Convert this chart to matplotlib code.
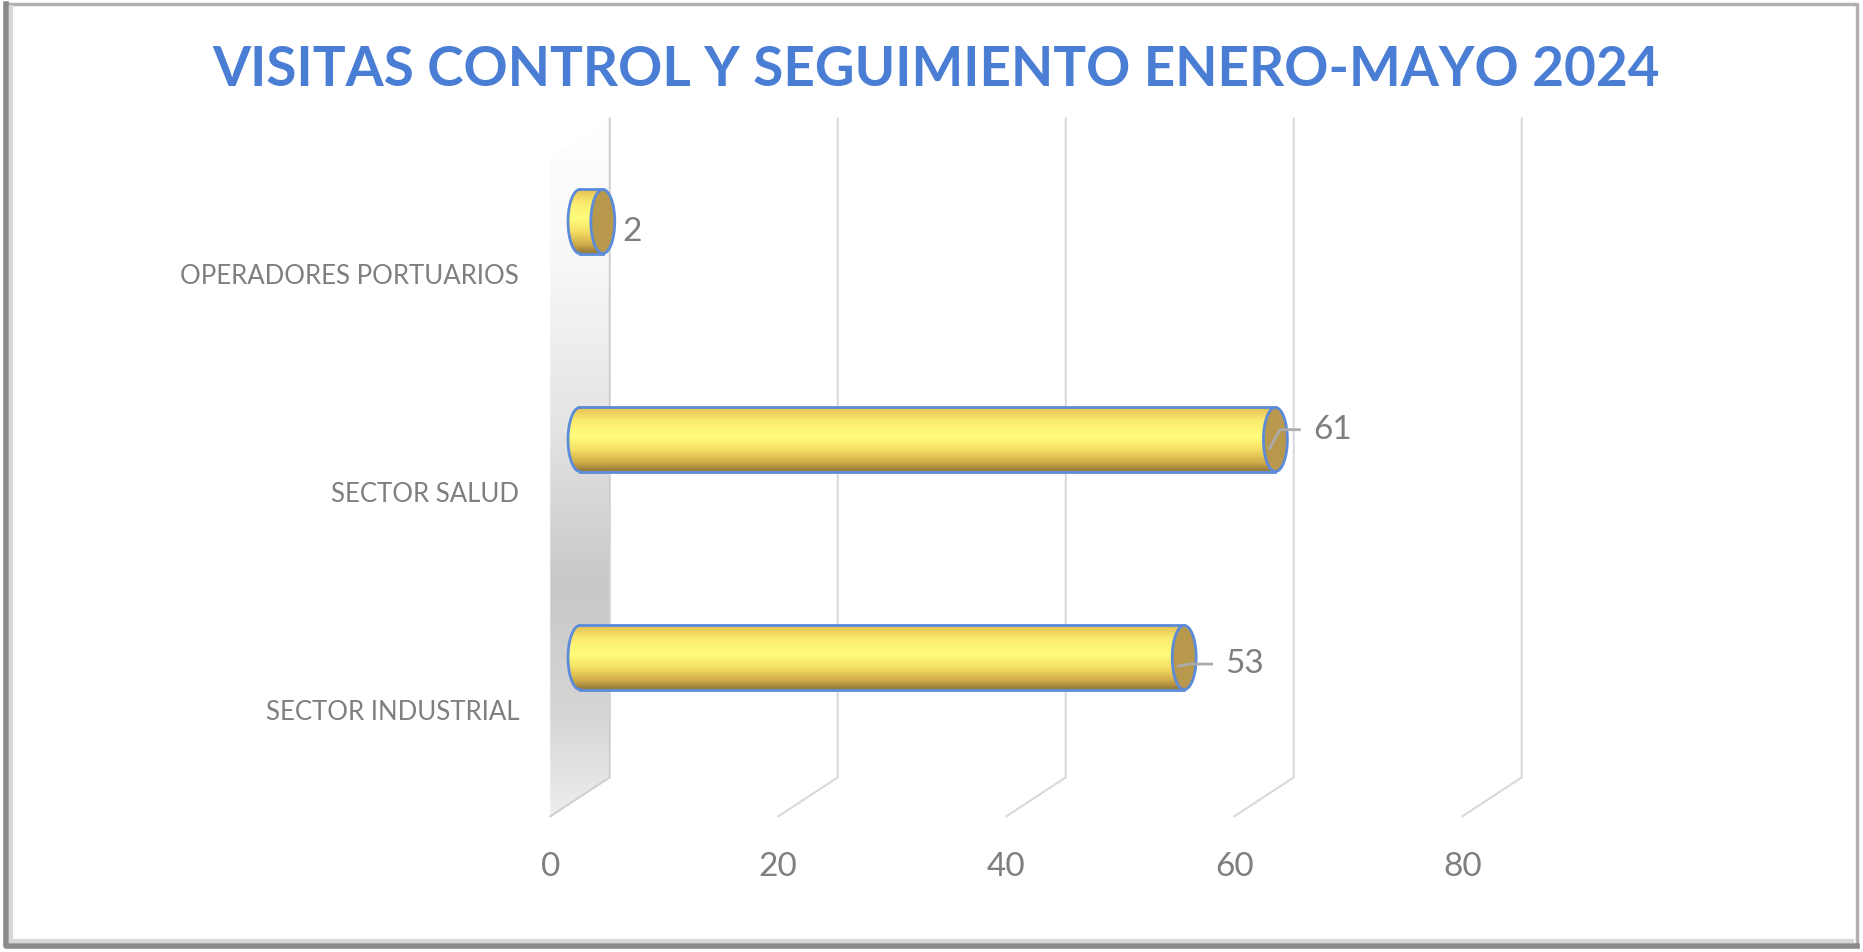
import numpy as np
import matplotlib
matplotlib.use("Agg")
import matplotlib.pyplot as plt
from matplotlib.colors import LinearSegmentedColormap
from matplotlib.patches import PathPatch, Polygon, Ellipse
from matplotlib.lines import Line2D
from matplotlib.path import Path

# data
categories = ["SECTOR INDUSTRIAL", "SECTOR SALUD", "OPERADORES PORTUARIOS"]
values = [53, 61, 2]
x_ticks = [0, 20, 40, 60, 80]
title = "VISITAS CONTROL Y SEGUIMIENTO ENERO-MAYO 2024"

# label placement (relative to bar end / centre, in data units)
label_dx = [3.6, 3.3, 1.7]
label_dy = [-0.03, 0.045, -0.05]

# 3d look
DX = 2.61      # half depth in x
DY = 0.0894    # half depth in y
TOP = 2.472    # back wall top
FLOOR_BACK = -0.55
H = 0.147      # half bar height
A = 1.05       # cap semi-width

GRID = "#D9D9D9"
TXT = "#7F7F7F"
EDGE = "#5B8BD9"
CAP = "#B8984C"

fig = plt.figure(figsize=(18.63, 9.52), dpi=100)
ax = fig.add_axes([0, 0, 1, 1])
ax.set_xlim(-580 / 11.4, (1863 - 580) / 11.4)
ax.set_ylim((657.5 - 952) / 218, 657.5 / 218)
ax.axis("off")

# frame: light top/right, darker shadow on left/bottom
tf = fig.transFigure
fig.lines.append(Line2D([0.003, 0.997, 0.997], [0.996, 0.996, 0.006], transform=tf,
                        color="#B0B0B0", lw=2.5))
fig.lines.append(Line2D([0.003, 0.003, 0.997], [0.996, 0.006, 0.006], transform=tf,
                        color="#8A8A8A", lw=4))
fig.lines.append(Line2D([0.006, 0.006, 0.994], [0.993, 0.012, 0.012], transform=tf,
                        color="#D8D8D8", lw=3))

# left wall
wall = [(-DX, FLOOR_BACK - 2 * DY), (DX, FLOOR_BACK), (DX, TOP), (-DX, TOP - 2 * DY)]
wall_patch = Polygon(wall, closed=True, facecolor="none", edgecolor="none")
ax.add_patch(wall_patch)
wall_cmap = LinearSegmentedColormap.from_list(
    "wall", [(0.0, "#EDEDED"), (0.14, "#D6D6D6"), (0.33, "#C8C8C8"),
             (0.55, "#E3E3E3"), (0.8, "#F8F8F8"), (1.0, "#FFFFFF")])
grad = np.linspace(0, 1, 256).reshape(-1, 1)
im = ax.imshow(grad, cmap=wall_cmap, origin="lower", aspect="auto",
               extent=(-DX, DX, FLOOR_BACK - 2 * DY, TOP), zorder=1)
im.set_clip_path(wall_patch)
ax.plot([DX, DX, -DX], [TOP, FLOOR_BACK, FLOOR_BACK - 2 * DY], color="#D0D0D0", lw=1.5, zorder=2)

# gridlines
for v in x_ticks[1:]:
    ax.plot([v + DX, v + DX, v - DX], [TOP, FLOOR_BACK, FLOOR_BACK - 2 * DY],
            color=GRID, lw=1.5, zorder=1)

# tick labels
for v in x_ticks:
    ax.text(v - DX, -0.962, str(v), ha="center", va="center", fontsize=24,
            color=TXT, family="Lato")

# cylinders
bar_cmap = LinearSegmentedColormap.from_list(
    "bar", [(0.0, "#8E733A"), (0.15, "#D2AC48"), (0.35, "#F5E064"),
            (0.55, "#FFFD7C"), (0.8, "#FBEA6E"), (1.0, "#E3BE50")])
for i, (cat, v) in enumerate(zip(categories, values)):
    c = i
    t = np.linspace(np.pi / 2, 3 * np.pi / 2, 40)
    left = np.column_stack([A * np.cos(t), c + H * np.sin(t)])
    verts = [(v, c + H)] + [tuple(p) for p in left] + [(v, c - H), (v, c + H)]
    body = PathPatch(Path(verts, closed=False), facecolor="none", edgecolor="none")
    ax.add_patch(body)
    bim = ax.imshow(grad, cmap=bar_cmap, origin="lower", aspect="auto",
                    extent=(-A, v + A, c - H, c + H), zorder=3)
    bim.set_clip_path(body)
    ax.plot(left[:, 0], left[:, 1], color=EDGE, lw=2, zorder=4)
    ax.plot([0, v], [c + H, c + H], color=EDGE, lw=2, zorder=4)
    ax.plot([0, v], [c - H, c - H], color=EDGE, lw=2, zorder=4)
    ax.add_patch(Ellipse((v, c), 2 * A, 2 * H, facecolor=CAP, edgecolor=EDGE,
                         lw=2, zorder=5))
    # leader + value
    lx = v + label_dx[i]
    ly = c + label_dy[i]
    if label_dx[i] > 2:
        ax.plot([v - 0.5, v + 0.4, lx - 1.2], [c - 0.04, ly, ly], color="#ABABAB",
                lw=2, zorder=6)
    ax.text(lx, ly, str(v), ha="left", va="center", fontsize=24, color=TXT,
            family="Lato", zorder=6)
    # category label
    ax.text(-5.35, c - 0.252, cat, ha="right", va="center", fontsize=18.5,
            color=TXT, family="Lato")

ax.text(0.5025, 0.926, title, transform=fig.transFigure, ha="center", va="center",
        fontsize=39.5, fontweight="bold", color="#4A7DD4", family="Lato")

fig.savefig("out.png", dpi=100)
